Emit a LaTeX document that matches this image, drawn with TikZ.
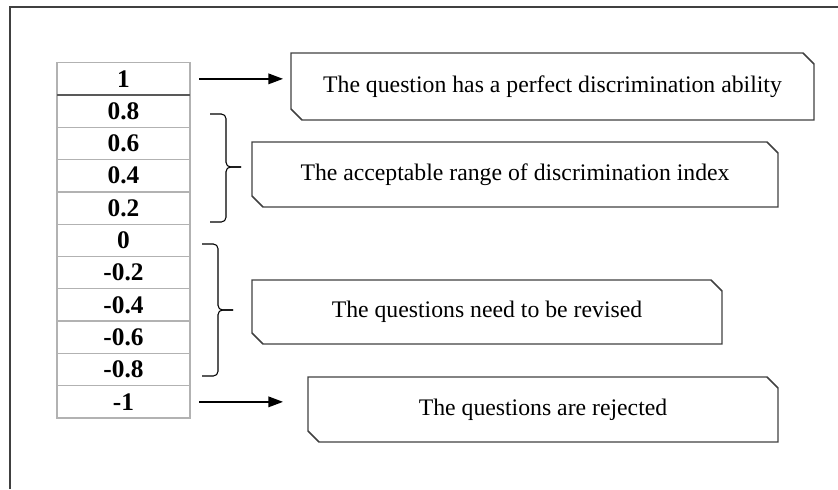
\documentclass[tikz,border=0pt]{standalone}
\usepackage{fontspec}
\setmainfont{Liberation Serif}
\usetikzlibrary{arrows.meta,calc}

% outline with two cut corners, drawn round a named node
\newcommand{\cutbox}[1]{%
  \draw[boxline] (#1.north west) -- ($(#1.north east)+(-11,0)$) -- ($(#1.north east)+(0,11)$)
    -- (#1.south east) -- ($(#1.south west)+(11,0)$) -- ($(#1.south west)+(0,-11)$) -- cycle;}
% square curly brace: x of the ends, top, bottom, middle
\newcommand{\sqbrace}[4]{%
  \draw[brc] (#1,#2) -- ({#1+16},#2) -- ({#1+16},#4) -- ({#1+31},#4);
  \draw[brc] (#1,#3) -- ({#1+16},#3) -- ({#1+16},#4) -- ({#1+31},#4);}

\begin{document}
\begin{tikzpicture}[x=0.75pt,y=-0.75pt,
    cell/.style={draw=gray!60,line width=0.9pt,minimum width=99.75pt,minimum height=24.2pt,
      inner sep=0pt,outer sep=0pt,font=\fontsize{19}{21}\selectfont\bfseries},
    note/.style={inner sep=0pt,outer sep=0pt,font=\fontsize{17.8}{20}\selectfont},
    boxline/.style={draw=black!75,line width=1.1pt},
    arr/.style={-{Triangle[length=11pt,width=8pt]},line width=1pt},
    brc/.style={line width=0.8pt,rounded corners=3.5pt}]
        \useasboundingbox (0,0) rectangle (838,489);
        \draw[black!75,line width=1.1pt] (10,489)--(10,7)--(838,7);
        % index column
        \foreach \val [count=\i from 0] in {1,0.8,0.6,0.4,0.2,0,-0.2,-0.4,-0.6,-0.8,-1}
            \node[cell] (v\i) at (123.5,{78.85+32.3*\i}) {\val};
        \draw[gray!70!black,line width=1.5pt] (v0.south west)--(v0.south east);
        % boxes
        \node[note,minimum width=392.25pt,minimum height=50.25pt] (perfect) at (552.5,86.5) {The question has a perfect discrimination ability};
        \node[note,minimum width=394.5pt,minimum height=48.75pt] (accept) at (515,174.5) {The acceptable range of discrimination index};
        \node[note,minimum width=352.5pt,minimum height=48pt] (revise) at (487,312) {The questions need to be revised};
        \node[note,minimum width=352.5pt,minimum height=48.75pt] (reject) at (543,409.5) {The questions are rejected};
        \cutbox{perfect}
        \cutbox{accept}
        \cutbox{revise}
        \cutbox{reject}
        % arrows and braces
        \draw[arr,shorten <=6.75pt,shorten >=6pt] (v0.east)--(v0.east -| perfect.west);
        \draw[arr,shorten <=6.75pt,shorten >=18.75pt] (v10.east)--(v10.east -| reject.west);
        \sqbrace{210}{114}{222}{167}
        \sqbrace{202}{244}{376}{310}
    \end{tikzpicture}
\end{document}
